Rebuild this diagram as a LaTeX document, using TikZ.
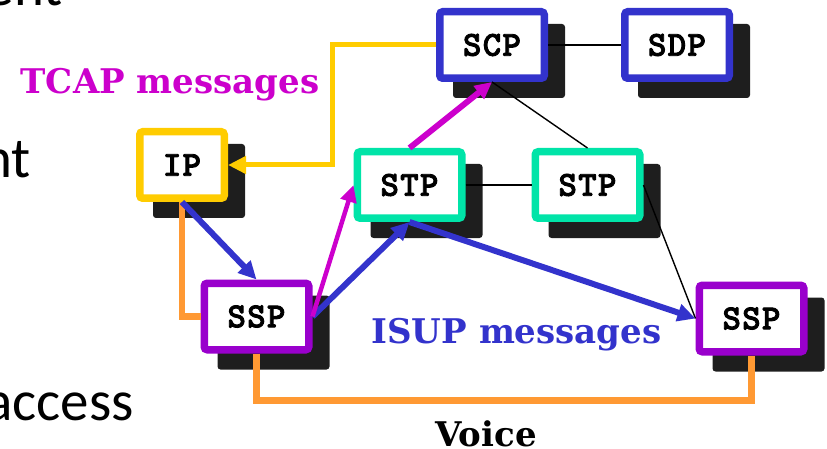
\documentclass[tikz,border=0pt]{standalone}
\usepackage{fontspec}
\usetikzlibrary{arrows.meta,backgrounds}
\newfontfamily\labelfont{DejaVu Serif}
\newfontfamily\slidefont{Carlito}
\newfontfamily\boxfont{lmmonolt10-bold.otf}[FakeBold=2.5,LetterSpace=4]

\definecolor{goldc}{RGB}{255,204,0}
\definecolor{orangec}{RGB}{255,153,51}
\definecolor{bluec}{RGB}{51,51,204}
\definecolor{magc}{RGB}{204,0,204}
\definecolor{mintc}{RGB}{0,228,168}
\definecolor{purplec}{RGB}{153,0,204}
\definecolor{shadowc}{RGB}{30,30,30}

\begin{document}
\begin{tikzpicture}[x=1pt,y=-1pt,
  netbox/.style={draw=#1, line width=7.5pt, fill=white, rounded corners=3pt,
    minimum width=104.5pt, minimum height=66.5pt, inner sep=0pt,
    font=\boxfont\fontsize{35}{35}\selectfont},
  msglabel/.style={anchor=base, inner sep=0pt,
    font=\labelfont\bfseries\fontsize{34}{38}\selectfont},
  slidetext/.style={anchor=base east, inner sep=0pt,
    font=\slidefont\fontsize{57}{60}\selectfont},
  bluearrow/.style={draw=bluec, line width=6pt,
    -{Triangle[length=18pt,width=17pt]}},
  magarrow/.style={draw=magc, line width=#1,
    -{Triangle[length=17pt,width=16pt]}},
  thinlink/.style={draw=black, line width=1.4pt},
  voiceline/.style={draw=orangec, line width=6.5pt},
  tcapline/.style={draw=goldc, line width=5pt,
    -{Triangle[length=18pt,width=17pt]}}
]
\useasboundingbox (0,0) rectangle (827,449);

% bullet text of the slide behind the diagram
\begin{scope}
  \clip (0,0) rectangle (827,449);
  \node[slidetext] (txttop) at (63,6) {ment};
  \node[slidetext] (txtnt) at (31,178) {nt};
  \node[slidetext] (txtacc) at (134,420) {access};
\end{scope}

% network elements
\node[netbox=goldc, minimum width=84.5pt] (ip) at (182,165) {IP};
\node[netbox=bluec] (scp) at (492,45) {SCP};
\node[netbox=bluec] (sdp) at (677,45) {SDP};
\node[netbox=mintc] (stpa) at (409.5,185) {STP};
\node[netbox=mintc] (stpb) at (587.5,185) {STP};
\node[netbox=purplec] (sspa) at (256.5,316.5) {SSP};
\node[netbox=purplec] (sspb) at (751.5,318.5) {SSP};

% drop shadows behind every box
\begin{scope}[on background layer]
  \foreach \n in {ip,scp,sdp,stpa,stpb,sspa,sspb}
    \fill[shadowc, rounded corners=3pt]
      ([shift={(17,16)}]\n.north west) rectangle ([shift={(17,16)}]\n.south east);
\end{scope}

% signalling links
\draw[thinlink] (scp.east) -- (sdp.west);
\draw[thinlink] (scp.south) -- (stpb.north);
\draw[thinlink] (stpa.east) -- (stpb.west);
\draw[thinlink] (stpb.east) -- (sspb.west);

% voice trunks
\draw[voiceline] (ip.south) |- (sspa.west);
\draw[voiceline] (sspa.south) -- ++(0,47) -| (sspb.south);

% TCAP reply to the IP
\draw[tcapline] (scp.west) -- ++(-104,0) |- (ip.east);

% ISUP messages
\draw[bluearrow] (ip.south) -- (sspa.north);
\draw[bluearrow] (sspa.east) -- (stpa.south);
\draw[bluearrow] (stpa.south) -- (sspb.west);

% TCAP messages
\draw[magarrow=4.5pt] (sspa.east) -- (stpa.west);
\draw[magarrow=6pt] (stpa.north) -- (scp.south);

% labels
\node[msglabel, text=magc] (tcap) at (170,94) {TCAP messages};
\node[msglabel, text=bluec] (isup) at (516.5,343) {ISUP messages};
\node[msglabel, text=black] (voice) at (486,446) {Voice};
\end{tikzpicture}
\end{document}
